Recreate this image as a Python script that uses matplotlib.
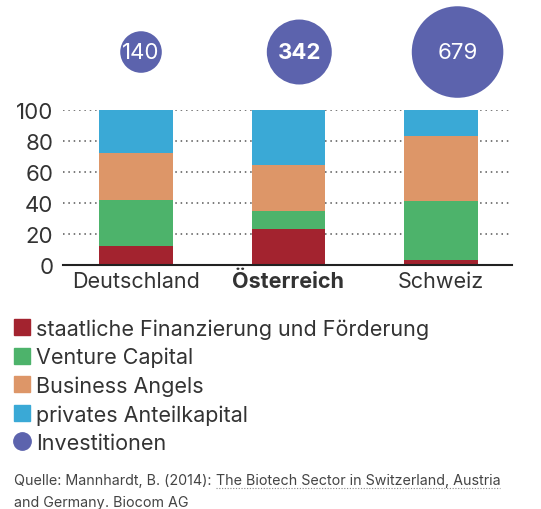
import matplotlib
matplotlib.use("Agg")
import matplotlib.pyplot as plt
from matplotlib.lines import Line2D
import numpy as np

plt.rcParams['font.family'] = ['Inter', 'DejaVu Sans']

categories = ["Deutschland", "Österreich", "Schweiz"]
series_names = ["staatliche Finanzierung und Förderung", "Venture Capital",
                "Business Angels", "privates Anteilkapital"]
staatlich = [12.5, 23.4, 3.4]
venture = [29.7, 11.7, 38.1]
angels = [30.3, 29.6, 41.7]
privat = [27.5, 35.3, 16.8]
investitionen = [140, 342, 679]
yticks = [0, 20, 40, 60, 80, 100]

colors = ["#a3232f", "#4db36b", "#dd9668", "#3aa9d6"]
purple = "#5c63ad"
textc = "#333333"

W, H = 541, 510
fig = plt.figure(figsize=(W / 100, H / 100), dpi=100)

# bar axes
ax = fig.add_axes([63 / W, (H - 266) / H, 449 / W, 155 / H])
x = np.arange(len(categories))
bottom = np.zeros(len(categories))
for vals, c in zip([staatlich, venture, angels, privat], colors):
    ax.bar(x, vals, width=0.48, bottom=bottom, color=c, zorder=3)
    bottom += np.array(vals)
ax.set_xlim(-0.479, 2.466)
ax.set_ylim(0, 100)
ax.set_yticks(yticks)
ax.set_yticklabels([str(t) for t in yticks], fontsize=16, color=textc)
ax.set_xticks(x)
ax.set_xticklabels(categories, fontsize=15.5, color=textc)
ax.get_xticklabels()[1].set_fontweight("bold")
ax.tick_params(length=0, pad=4)
ax.tick_params(axis='y', pad=7)
for s in ["top", "right", "left"]:
    ax.spines[s].set_visible(False)
ax.spines["bottom"].set_color("#222222")
ax.spines["bottom"].set_linewidth(1.5)
ax.spines["bottom"].set_zorder(4)
ax.yaxis.grid(True, linestyle=(0, (1, 2.5)), color="#555555", linewidth=1.1, zorder=1)
ax.set_axisbelow(True)

# bubble axes
bx = fig.add_axes([63 / W, (H - 110) / H, 449 / W, 110 / H])
bx.set_xlim(-0.493, 2.344)
bx.set_ylim(-0.518, 0.482)
bx.axis("off")
bx.scatter(x, np.zeros(len(x)), s=np.array(investitionen) * 6.4, color=purple, zorder=3,
           linewidths=0)
for xi, v, cat in zip(x, investitionen, categories):
    bx.text(xi, 0, str(v), ha="center", va="center", color="white", fontsize=16,
            fontweight="bold" if cat == "Österreich" else "normal")

# legend
handles = [Line2D([], [], marker="s", linestyle="", markersize=12.2, color=c) for c in colors]
handles.append(Line2D([], [], marker="o", linestyle="", markersize=12.5, color=purple))
labels = series_names + ["Investitionen"]
leg = fig.legend(handles, labels, loc="upper left", bbox_to_anchor=(13.5 / W, 1 - 319 / H),
                 frameon=False, fontsize=15.5, handlelength=0.82, handletextpad=0.22,
                 labelspacing=0.38, borderaxespad=0, borderpad=0)
for t in leg.get_texts():
    t.set_color(textc)

# source
srcc = "#444444"
fs = 10.3
fig.canvas.draw()
r = fig.canvas.get_renderer()
y1 = 1 - 481 / H
y2 = 1 - 503 / H
t1 = fig.text(14 / W, y1, "Quelle: Mannhardt, B. (2014): ", fontsize=fs, color=srcc, va="center")
e1 = t1.get_window_extent(r)
t2 = fig.text(e1.x1 / W, y1, "The Biotech Sector in Switzerland, Austria", fontsize=fs,
              color=srcc, va="center")
e2 = t2.get_window_extent(r)
t3 = fig.text(14 / W, y2, "and Germany", fontsize=fs, color=srcc, va="center")
e3 = t3.get_window_extent(r)
t4 = fig.text(e3.x1 / W, y2, ". Biocom AG", fontsize=fs, color=srcc, va="center")
for e in (e2, e3):
    yy = (e.y0 - 1) / H
    fig.add_artist(Line2D([e.x0 / W, e.x1 / W], [yy, yy], transform=fig.transFigure,
                          linestyle=(0, (1, 1.5)), color="#888888", linewidth=0.8))

fig.savefig("out.png", dpi=100)
